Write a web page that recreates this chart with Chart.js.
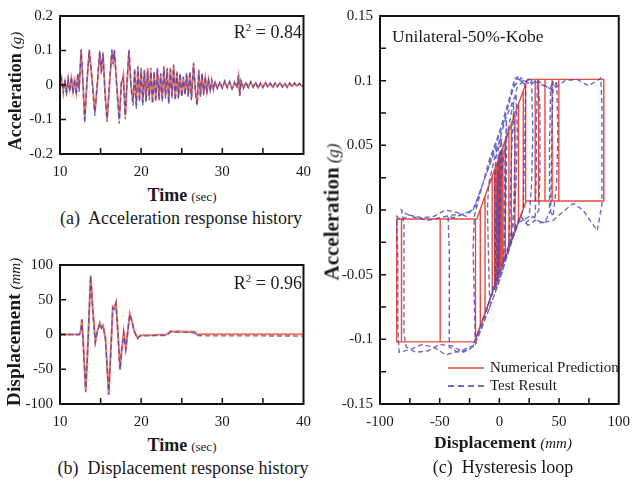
<!DOCTYPE html>
<html>
<head>
<meta charset="utf-8">
<script src="https://cdn.jsdelivr.net/npm/chart.js@4.4.0/dist/chart.umd.min.js"></script>
<style>
  body { margin: 0; background: #fff; }
  #fig { position: relative; width: 639px; height: 483px; overflow: hidden;
         font-family: "Liberation Serif", "Times New Roman", serif; color: #1a1a1a; }
  canvas { position: absolute; }
  .t { position: absolute; white-space: nowrap; line-height: 1; }
  .ctr { transform: translate(-50%, -50%); }
  .rot { transform: translate(-50%, -50%) rotate(-90deg); }
  .b { font-weight: bold; }
  .i { font-style: italic; }
  .key { position: absolute; width: 36px; height: 0; }
</style>
</head>
<body>
<div id="fig">
  <canvas id="accChart" width="320" height="184" style="left:0;top:0"></canvas>
  <canvas id="dispChart" width="320" height="185" style="left:0;top:249px"></canvas>
  <canvas id="hystChart" width="319" height="434" style="left:320px;top:0"></canvas>

  <div class="t rot" style="left:15px;top:91px"><span class="b" style="font-size:18px">Acceleration</span> <span class="i" style="font-size:15px">(g)</span></div>
  <div class="t ctr" style="left:182px;top:195px"><span class="b" style="font-size:18px">Time</span> <span style="font-size:13px">(sec)</span></div>
  <div class="t ctr" style="left:181px;top:218px;font-size:18px">(a)&nbsp; Acceleration response history</div>
  <div class="t" style="right:337px;top:22px;font-size:18px">R<sup style="font-size:11px">2</sup> = 0.84</div>

  <div class="t rot" style="left:14px;top:332px"><span class="b" style="font-size:19.5px">Displacement</span> <span class="i" style="font-size:15px">(mm)</span></div>
  <div class="t ctr" style="left:182px;top:445px"><span class="b" style="font-size:18px">Time</span> <span style="font-size:13px">(sec)</span></div>
  <div class="t ctr" style="left:183px;top:468px;font-size:18px">(b)&nbsp; Displacement response history</div>
  <div class="t" style="right:337px;top:273px;font-size:18px">R<sup style="font-size:11px">2</sup> = 0.96</div>

  <div class="t rot" style="left:332px;top:212px"><span class="b" style="font-size:21px">Acceleration</span> <span class="i" style="font-size:17px">(g)</span></div>
  <div class="t ctr" style="left:503px;top:443px"><span class="b" style="font-size:17.7px">Displacement</span> <span class="i" style="font-size:15px">(mm)</span></div>
  <div class="t ctr" style="left:503px;top:467px;font-size:18px">(c)&nbsp; Hysteresis loop</div>
  <div class="t" style="left:392px;top:28px;font-size:17.5px">Unilateral-50%-Kobe</div>

  <div class="key" style="left:448px;top:367px;border-top:2px solid rgba(240,90,70,0.85)"></div>
  <div class="t" style="left:490px;top:360px;font-size:15px">Numerical Prediction</div>
  <div class="key" style="left:448px;top:385px;border-top:2px dashed rgba(70,70,180,0.8)"></div>
  <div class="t" style="left:490px;top:378px;font-size:15px">Test Result</div>
</div>

<script>
// (a) acceleration response history, time in sec, acceleration in g
const accTime = [
  10.0, 10.2, 10.4, 10.6, 10.8, 11.0, 11.2, 11.4, 11.6, 11.8,
  12.0, 12.2, 12.35, 12.6, 12.85, 13.05, 13.3, 13.6, 13.95, 14.3,
  14.6, 14.9, 15.1, 15.3, 15.55, 15.8, 16.1, 16.4, 16.55, 16.7,
  17.0, 17.3, 17.55, 17.8, 18.05, 18.25, 18.5, 18.75, 19.0, 19.2,
  19.4, 19.6, 19.8, 20.0, 20.2, 20.4, 20.6, 20.8, 21.0, 21.2,
  21.4, 21.6, 21.8, 22.0, 22.2, 22.4, 22.6, 22.8, 23.0, 23.2,
  23.4, 23.6, 23.8, 24.0, 24.2, 24.4, 24.6, 24.8, 25.0, 25.2,
  25.4, 25.6, 25.8, 26.0, 26.2, 26.45, 26.7, 26.9, 27.1, 27.3,
  27.5, 27.7, 27.9, 28.1, 28.3, 28.5, 28.7, 28.9, 29.1, 29.4,
  29.7, 30.0, 30.3, 30.6, 30.9, 31.2, 31.5, 31.8, 32.0, 32.15,
  32.3, 32.6, 32.9, 33.2, 33.5, 33.8, 34.1, 34.4, 34.7, 35.0,
  35.3, 35.6, 35.9, 36.2, 36.5, 36.8, 37.1, 37.4, 37.7, 38.0,
  38.3, 38.6, 38.9, 39.2, 39.5, 39.8, 40.0
];
const accNum = [
  0.0, 0.012, -0.015, 0.01, -0.02, 0.015, -0.012, 0.02, -0.018, 0.012,
  -0.022, 0.03, -0.01, 0.1, 0.0, -0.1, 0.0, 0.1, 0.02, -0.08,
  0.0, 0.095, 0.04, 0.09, -0.02, -0.1, 0.0, 0.1, 0.07, 0.1,
  0.0, -0.1, 0.0, 0.03, -0.09, 0.0, 0.1, 0.0, -0.05, 0.04,
  -0.06, 0.05, -0.04, 0.045, -0.05, 0.04, -0.045, 0.05, -0.035, 0.04,
  -0.05, 0.035, -0.04, 0.045, -0.045, 0.03, -0.04, 0.05, -0.03, 0.045,
  -0.05, 0.05, -0.03, 0.055, -0.04, 0.04, -0.035, 0.03, -0.03, 0.02,
  -0.025, 0.03, -0.03, 0.035, -0.04, 0.06, -0.02, -0.055, 0.04, -0.03,
  0.03, -0.025, 0.02, -0.02, 0.015, -0.015, 0.01, -0.01, 0.008, -0.01,
  0.006, -0.008, 0.01, -0.006, 0.008, -0.01, 0.005, -0.005, 0.025, -0.03,
  0.01, -0.008, 0.006, -0.006, 0.008, -0.005, 0.006, -0.008, 0.005, -0.006,
  0.007, -0.005, 0.004, -0.006, 0.005, -0.004, 0.006, -0.005, 0.004, -0.006,
  0.005, -0.004, 0.005, -0.003, 0.004, -0.003, 0.0
];
const accTest = [
  -0.01, 0.02, -0.025, 0.015, -0.03, 0.02, -0.02, 0.025, -0.025, 0.018,
  -0.03, 0.035, -0.02, 0.104, -0.01, -0.112, 0.005, 0.103, 0.01, -0.09,
  0.01, 0.1, 0.03, 0.095, -0.03, -0.108, 0.01, 0.104, 0.06, 0.102,
  -0.01, -0.112, 0.01, 0.02, -0.1, 0.01, 0.102, -0.01, -0.06, 0.05,
  -0.07, 0.055, -0.05, 0.05, -0.06, 0.045, -0.05, 0.04, -0.045, 0.05,
  -0.055, 0.04, -0.05, 0.05, -0.04, 0.035, -0.05, 0.055, -0.04, 0.05,
  -0.055, 0.045, -0.04, 0.06, -0.045, 0.035, -0.04, 0.035, -0.035, 0.025,
  -0.03, 0.035, -0.035, 0.04, -0.045, 0.065, -0.03, -0.06, 0.045, -0.035,
  0.035, -0.03, 0.025, -0.025, 0.02, -0.02, 0.015, -0.015, 0.01, -0.012,
  0.01, -0.01, 0.012, -0.008, 0.01, -0.012, 0.008, -0.008, 0.028, -0.032,
  0.012, -0.01, 0.008, -0.008, 0.01, -0.007, 0.008, -0.01, 0.006, -0.008,
  0.008, -0.006, 0.006, -0.008, 0.006, -0.005, 0.007, -0.006, 0.005, -0.007,
  0.006, -0.005, 0.006, -0.004, 0.005, -0.004, 0.0
];

// (b) displacement response history, mm
const dispTime = [
  10, 12.4, 12.55, 12.7, 12.9, 13.17, 13.45, 13.78, 14.05, 14.35,
  14.6, 14.9, 15.1, 15.3, 15.6, 15.8, 16.0, 16.25, 16.5, 16.7,
  16.9, 17.15, 17.4, 17.6, 17.85, 18.1, 18.35, 18.6, 18.85, 19.15,
  19.55, 19.8, 20.0, 21.0, 22.0, 23.0, 23.4, 23.6, 24.0, 24.5,
  25.5, 26.6, 26.8, 28, 30, 32, 35, 38, 40
];
const dispNum = [
  0, 0, 5, 22, -20, -81, -10, 85, 35, -10,
  5, 17, 10, 13, -5, -45, -86, -25, 40, 38,
  46, 0, -50, -22, 3, -20, 5, 30, 20, 5,
  -5, -2, -1, -1, -0.5, -0.5, 2, 5, 4, 4.5,
  4, 4, 0.5, 0.5, 0.3, 0.3, 0.2, 0.2, 0.2
];
const dispTest = [
  0, 0, 4, 21, -22, -83, -12, 84, 33, -12,
  3, 16, 9, 12, -6, -47, -87, -27, 38, 36,
  45, -2, -51, -24, 2, -22, 4, 29, 19, 4,
  -6, -3, -2, -2, -1.5, -1.5, 1, 4, 3, 3,
  3, 2.5, -1.5, -2, -2, -2, -2, -2.2, -2.3
];

// (c) hysteresis loop, [displacement mm, acceleration g]
const hystNum = [
  [0, 0], [0, 0.0413], [22, 0.0972], [22, 0.0057], [-21, -0.102], [-82, -0.102], [-82, -0.007],
  [-19, -0.007], [23.5, 0.101], [87.5, 0.101], [87.5, 0.007], [22.5, 0.007], [-12, -0.0795],
  [-12, 0.0108], [16, 0.0819], [16, -0.0093], [10, -0.0243], [10, 0.0667], [13, 0.0743],
  [13, -0.0168], [-21, -0.102], [-86, -0.102], [-86, -0.007], [-19, -0.007], [23.5, 0.101],
  [38.2, 0.101], [38.2, 0.007], [32.8, 0.007], [32.8, 0.101], [49.8, 0.101], [49.8, 0.007],
  [44.2, 0.007], [44.2, 0.101], [44.2, 0.007], [22.5, 0.007], [-21, -0.102], [-49.6, -0.102],
  [-49.6, -0.007], [-19, -0.007], [3, 0.0489], [3, -0.0419], [-20, -0.0995], [-20, -0.007],
  [-19, -0.007], [23.5, 0.101], [30, 0.101], [30, 0.007], [22.5, 0.007], [5, -0.0369],
  [5, 0.054], [20, 0.0921], [20, 0.0007], [-16, -0.0895], [-16, 0.0006], [8, 0.0616],
  [8, -0.0293], [-6, -0.0644], [-6, 0.026], [5, 0.054], [5, -0.0369], [-3, -0.0569],
  [-3, 0.0337], [2, 0.0464], [2, -0.0444], [-4, -0.0594], [-4, 0.0311], [1, 0.0438],
  [1, -0.0469], [-2, -0.0544], [-2, 0.0362], [0, 0.0413], [0, -0.0494], [-1, -0.0519], [-1, 0.0387]
];
const hystTest = [
  [0, 0], [2, 0.03], [5, 0.05], [10, 0.075], [15, 0.095], [20, 0.1], [22, 0.095], [21, 0.04],
  [20, 0.0], [15, -0.01], [8, -0.03], [0, -0.055], [-8, -0.075], [-15, -0.092], [-21, -0.105],
  [-30, -0.11], [-40, -0.105], [-50, -0.104], [-60, -0.109], [-70, -0.11], [-78, -0.106],
  [-80, -0.095], [-80, -0.05], [-80, -0.01], [-82, 0.0], [-78, -0.003], [-70, -0.006],
  [-60, -0.008], [-50, -0.006], [-40, -0.004], [-30, -0.003], [-22, 0.0], [-16, 0.015],
  [-10, 0.03], [-5, 0.045], [3, 0.066], [11, 0.092], [15, 0.103], [20, 0.098], [25, 0.101],
  [35, 0.097], [45, 0.093], [55, 0.1], [65, 0.101], [75, 0.096], [85, 0.102], [86, 0.08],
  [86, 0.03], [86, 0.005], [82, -0.016], [76, -0.008], [70, 0.0], [62, 0.005], [55, 0.0],
  [45, -0.008], [35, -0.01], [28, -0.005], [22, -0.01], [18, -0.005], [12, -0.02], [5, -0.04],
  [-2, -0.06], [-8, -0.075], [-9, -0.04], [-10, 0.0], [-9, 0.02], [-4, 0.04], [5, 0.07],
  [14, 0.09], [15, 0.06], [14, 0.02], [12, -0.01], [8, -0.025], [9, 0.0], [10, 0.04],
  [12, 0.08], [13, 0.05], [12, 0.0], [10, -0.02], [0, -0.05], [-8, -0.07], [-15, -0.09],
  [-22, -0.105], [-30, -0.108], [-45, -0.112], [-55, -0.106], [-65, -0.104], [-75, -0.108],
  [-84, -0.11], [-85, -0.09], [-85, -0.04], [-86, -0.005], [-83, -0.008], [-75, -0.004],
  [-65, -0.006], [-55, -0.005], [-45, 0.0], [-35, -0.002], [-28, -0.005], [-20, 0.003],
  [-14, 0.02], [-8, 0.04], [0, 0.06], [8, 0.085], [13, 0.102], [20, 0.1], [28, 0.098],
  [32, 0.1], [34, 0.08], [34, 0.03], [33, 0.0], [30, -0.005], [31, 0.03], [31, 0.07],
  [32, 0.1], [40, 0.095], [45, 0.092], [48, 0.1], [49, 0.06], [48, 0.02], [45, -0.005],
  [42, 0.0], [42, 0.05], [43, 0.095], [45, 0.1], [44, 0.06], [43, 0.0], [38, -0.01],
  [30, -0.008], [24, -0.012], [18, -0.005], [10, -0.025], [0, -0.055], [-10, -0.08],
  [-18, -0.098], [-25, -0.108], [-35, -0.11], [-42, -0.106], [-42, -0.07], [-42, -0.03],
  [-43, -0.005], [-38, -0.006], [-30, -0.003], [-22, 0.0], [-12, 0.025], [-4, 0.045],
  [1, 0.055], [0, 0.02], [-1, -0.02], [-2, -0.05], [-10, -0.075], [-18, -0.095], [-20, -0.105],
  [-21, -0.07], [-22, -0.03], [-21, -0.005], [-14, 0.02], [-5, 0.045], [5, 0.075], [12, 0.095],
  [18, 0.102], [24, 0.098], [27, 0.1], [28, 0.06], [27, 0.02], [25, -0.005], [20, -0.008],
  [14, -0.01], [8, -0.03], [4, -0.04], [4, 0.0], [5, 0.05], [6, 0.07], [6, 0.03], [5, -0.01],
  [3, -0.045], [-3, -0.06], [-4, -0.02], [-4, 0.02], [-3, 0.04], [0, 0.05], [2, 0.055],
  [1, 0.0], [0, -0.04], [-1, -0.055], [-4, -0.062], [-3, -0.02], [-2, 0.01], [-1, 0.04],
  [0, 0.045], [0, 0.0], [-1, -0.05], [-2, -0.055], [-2, -0.01], [-1, 0.03], [0, 0.02],
  [0, -0.02], [-1, -0.045], [-1, 0.0]
];

// tick values (labelled) and tick marks drawn inside the frame
const timeTicks = [10, 20, 30, 40];
const timeMarks = [15, 20, 25, 30, 35];
const accTicks = [-0.2, -0.1, 0, 0.1, 0.2];
const accMarks = [-0.1, 0, 0.1];
const dispTicks = [-100, -50, 0, 50, 100];
const dispMarks = [-50, 0, 50];
const hystXTicks = [-100, -50, 0, 50, 100];
const hystXMarks = [-75, -50, -25, 0, 25, 50, 75];
const hystYTicks = [-0.15, -0.1, -0.05, 0, 0.05, 0.1, 0.15];
const hystYMarks = [-0.125, -0.1, -0.075, -0.05, -0.025, 0, 0.025, 0.05, 0.075, 0.1, 0.125];

const RED = 'rgba(240,90,70,0.85)';
const DEEP_RED = 'rgba(232,55,40,0.9)';
const BLUE = 'rgba(70,70,180,0.8)';
const tickFont = { family: '"Liberation Serif", "Times New Roman", serif', size: 15 };

// frame box + short inward tick marks
const frameTicks = {
    id: 'frameTicks',
    afterDatasetsDraw(chart, args, opts) {
        const { ctx, chartArea: a } = chart;
        const x = chart.scales.x, y = chart.scales.y;
        ctx.save();
        ctx.strokeStyle = '#111';
        ctx.lineWidth = 1.5;
        ctx.beginPath();
        opts.xMarks.forEach(v => {
            const p = x.getPixelForValue(v);
            ctx.moveTo(p, a.bottom);
            ctx.lineTo(p, a.bottom - 6);
        });
        opts.yMarks.forEach(v => {
            const p = y.getPixelForValue(v);
            ctx.moveTo(a.left, p);
            ctx.lineTo(a.left + 6, p);
        });
        ctx.stroke();
        ctx.lineWidth = 2;
        ctx.strokeRect(a.left, a.top, a.right - a.left, a.bottom - a.top);
        ctx.restore();
    }
};

function axis(min, max, ticks, isX) {
    return {
        type: 'linear',
        min, max,
        grid: { display: false, drawTicks: false },
        border: { display: false },
        afterBuildTicks: s => { s.ticks = ticks.map(v => ({ value: v })); },
        afterFit: s => { if (isX) s.height = 30; else s.width = 60; },
        ticks: {
            font: tickFont,
            color: '#1a1a1a',
            padding: isX ? 9 : 7,
            maxRotation: 0,
            autoSkip: false,
            callback: v => String(v)
        }
    };
}

function line(points, color, dashed, width) {
    return {
        data: points,
        showLine: true,
        borderColor: color,
        borderWidth: width,
        borderDash: dashed ? [5, 3] : [],
        pointRadius: 0,
        tension: 0,
        fill: false,
        order: dashed ? 1 : 2
    };
}

function makeChart(id, datasets, xAxis, yAxis, marks, rightPad) {
    return new Chart(document.getElementById(id), {
        type: 'scatter',
        data: { datasets },
        options: {
            responsive: false,
            animation: false,
            devicePixelRatio: 1,
            layout: { padding: { top: 14, right: rightPad, left: 0, bottom: 0 } },
            scales: { x: xAxis, y: yAxis },
            plugins: {
                legend: { display: false },
                tooltip: { enabled: false },
                frameTicks: marks
            }
        },
        plugins: [frameTicks]
    });
}

const xy = (xs, ys) => xs.map((t, i) => ({ x: t, y: ys[i] }));
const pairs = list => list.map(p => ({ x: p[0], y: p[1] }));

makeChart('accChart', [
    line(xy(accTime, accNum), RED, false, 1.8),
    line(xy(accTime, accTest), BLUE, true, 1.4)
], axis(10, 40, timeTicks, true), axis(-0.2, 0.2, accTicks, false),
   { xMarks: timeMarks, yMarks: accMarks }, 14);

makeChart('dispChart', [
    line(xy(dispTime, dispNum), RED, false, 2),
    line(xy(dispTime, dispTest), BLUE, true, 1.4)
], axis(10, 40, timeTicks, true), axis(-100, 100, dispTicks, false),
   { xMarks: timeMarks, yMarks: dispMarks }, 14);

makeChart('hystChart', [
    line(pairs(hystNum), DEEP_RED, false, 1.4),
    line(pairs(hystTest), BLUE, true, 1.4)
], axis(-100, 100, hystXTicks, true), axis(-0.15, 0.15, hystYTicks, false),
   { xMarks: hystXMarks, yMarks: hystYMarks }, 13);
</script>
</body>
</html>
